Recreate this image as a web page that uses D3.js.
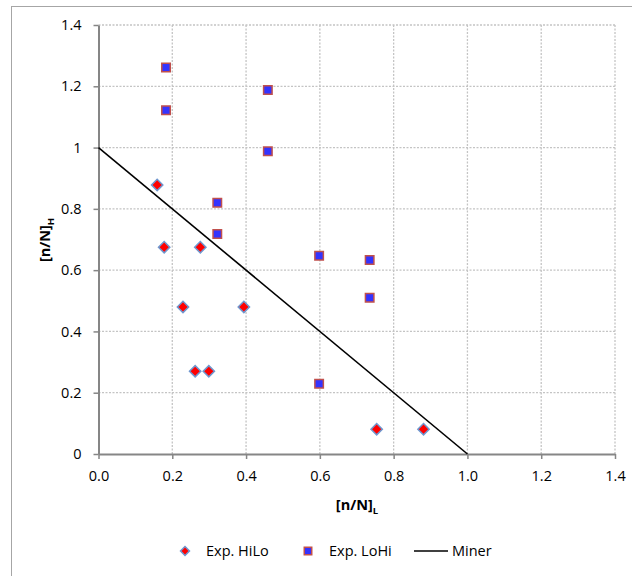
<!DOCTYPE html>
<html><head><meta charset="utf-8">
<script src="https://cdn.jsdelivr.net/npm/d3@7"></script>
<style>body{margin:0;background:#fff;} text{font-family:"Open Sans",sans-serif;}</style>
</head><body>
<svg id="c" width="632" height="576"></svg>
<script>
const hiloX = [0.159,0.178,0.276,0.229,0.394,0.262,0.299,0.754,0.881];
const hiloY = [0.878,0.675,0.675,0.480,0.480,0.270,0.270,0.081,0.081];
const lohiX = [0.183,0.183,0.459,0.459,0.322,0.322,0.598,0.735,0.735,0.598];
const lohiY = [1.261,1.122,1.188,0.988,0.820,0.718,0.647,0.633,0.510,0.229];
const minerX = [0,1];
const minerY = [1,0];
const xTicks = [0,0.2,0.4,0.6,0.8,1.0,1.2,1.4];
const yTicks = [0,0.2,0.4,0.6,0.8,1.0,1.2,1.4];
const legendLabels = ["Exp. HiLo","Exp. LoHi","Miner"];

const FONT = 14.5;
const svg = d3.select("#c");
svg.append("rect").attr("x",11.5).attr("y",6.5).attr("width",640).attr("height",600)
  .attr("fill","#fff").attr("stroke","#a6a6a6").attr("stroke-width",1);

const x = d3.scaleLinear().domain([0,1.4]).range([98.5,615]);
const y = d3.scaleLinear().domain([0,1.4]).range([454,25]);

// gridlines
const g = svg.append("g");
g.selectAll(".gx").data(xTicks.slice(1)).join("line")
  .attr("x1",d=>x(d)).attr("x2",d=>x(d)).attr("y1",y(0)).attr("y2",y(1.4))
  .attr("stroke","#c4c4c4").attr("stroke-width",1.3).attr("stroke-dasharray","2,1.5");
g.selectAll(".gy").data(yTicks.slice(1)).join("line")
  .attr("y1",d=>y(d)).attr("y2",d=>y(d)).attr("x1",x(0)).attr("x2",x(1.4))
  .attr("stroke","#c4c4c4").attr("stroke-width",1.3).attr("stroke-dasharray","2,1.5");

// axes
const xAxis = d3.axisBottom(x).tickValues(xTicks).tickFormat(d3.format(".1f")).tickSizeInner(5).tickSizeOuter(0).tickPadding(10);
const yAxis = d3.axisLeft(y).tickValues(yTicks).tickFormat(d=>d3.format("")(+d.toFixed(1))).tickSizeInner(5).tickSizeOuter(0).tickPadding(12);
const gx = svg.append("g").attr("transform",`translate(0,${y(0)})`).call(xAxis);
const gy = svg.append("g").attr("transform",`translate(${x(0)},0)`).call(yAxis);
[gx,gy].forEach(a=>{
  a.select(".domain").attr("stroke","#868686").attr("stroke-width",2);
  a.selectAll(".tick line").attr("stroke","#868686").attr("stroke-width",1.5);
  a.selectAll(".tick text").attr("font-size",FONT).attr("fill","#000").style("font-family","'Open Sans',sans-serif");
});
gx.selectAll(".tick text").attr("dy","0.8em");

// axis titles
const xt = svg.append("text").attr("x",357).attr("y",510).attr("text-anchor","middle")
  .attr("font-size",FONT).attr("font-weight","bold");
xt.append("tspan").text("[n/N]");
xt.append("tspan").text("L").attr("font-size",9.5).attr("dy",4);
const yt = svg.append("text").attr("transform","translate(50,240) rotate(-90)").attr("text-anchor","middle")
  .attr("font-size",FONT).attr("font-weight","bold");
yt.append("tspan").text("[n/N]");
yt.append("tspan").text("H").attr("font-size",9.5).attr("dy",4);

// Miner line
const line = d3.line().x(d=>x(d[0])).y(d=>y(d[1]));
svg.append("path").datum(minerX.map((v,i)=>[v,minerY[i]])).attr("d",line)
  .attr("fill","none").attr("stroke","#000").attr("stroke-width",1.6);

const diamond = d3.symbol().type(d3.symbolSquare).size(64);
// HiLo diamonds
svg.append("g").selectAll("path").data(hiloX.map((v,i)=>[v,hiloY[i]])).join("path")
  .attr("d",diamond).attr("transform",d=>`translate(${x(d[0])},${y(d[1])}) rotate(45)`)
  .attr("fill","#ff0000").attr("stroke","#6f97cf").attr("stroke-width",1.5);
// LoHi squares
const square = d3.symbol().type(d3.symbolSquare).size(72);
svg.append("g").selectAll("path").data(lohiX.map((v,i)=>[v,lohiY[i]])).join("path")
  .attr("d",square).attr("transform",d=>`translate(${x(d[0])},${y(d[1])})`)
  .attr("fill","#3333ff").attr("stroke","#c0504d").attr("stroke-width",1.5);

// legend
const ly = 551;
const legDiamond = d3.symbol().type(d3.symbolSquare).size(40);
svg.append("path").attr("d",legDiamond).attr("transform",`translate(185,${ly}) rotate(45)`)
  .attr("fill","#ff0000").attr("stroke","#6f97cf").attr("stroke-width",1.5);
svg.append("text").attr("x",206).attr("y",ly).attr("dy","0.35em").attr("font-size",FONT).text(legendLabels[0]);
const legSquare = d3.symbol().type(d3.symbolSquare).size(56);
svg.append("path").attr("d",legSquare).attr("transform",`translate(308,${ly})`)
  .attr("fill","#3333ff").attr("stroke","#c0504d").attr("stroke-width",1.5);
svg.append("text").attr("x",329).attr("y",ly).attr("dy","0.35em").attr("font-size",FONT).text(legendLabels[1]);
svg.append("line").attr("x1",414).attr("x2",448).attr("y1",ly).attr("y2",ly).attr("stroke","#000").attr("stroke-width",1.6);
svg.append("text").attr("x",452).attr("y",ly).attr("dy","0.35em").attr("font-size",FONT).text(legendLabels[2]);
</script>
</body></html>
